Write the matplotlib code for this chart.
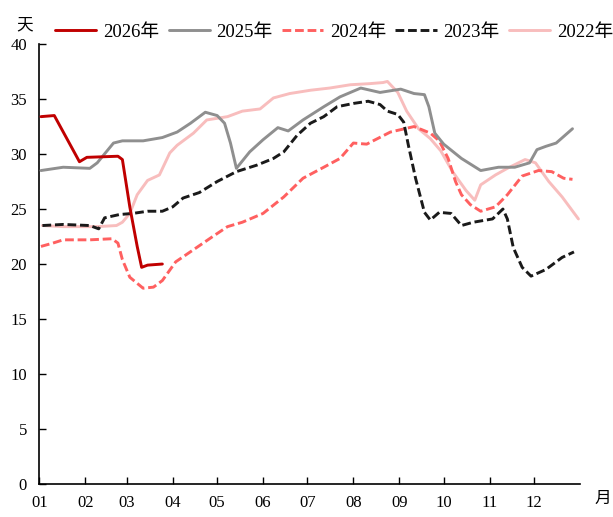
import numpy as np
import matplotlib
matplotlib.use("Agg")
import matplotlib.pyplot as plt

plt.rcParams["font.family"] = ["Liberation Serif", "Noto Sans CJK SC"]

# x = dzień roku (0 = 1 stycznia), y = liczba dni
d2026 = [1, 10, 27, 32, 53, 56, 61, 66, 69, 73, 83]
v2026 = [33.4, 33.5, 29.3, 29.7, 29.8, 29.5, 25.2, 21.6, 19.7, 19.9, 20.0]

d2025 = [1, 16, 34, 39, 50, 56, 70, 83, 93, 102, 112, 120, 125, 129, 133, 142, 151,
         161, 168, 178, 192, 203, 217, 230, 244, 253, 260, 263, 267, 273, 285, 298,
         310, 321, 331, 336, 342, 349, 360]
v2025 = [28.5, 28.8, 28.7, 29.2, 31.0, 31.2, 31.2, 31.5, 32.0, 32.8, 33.8, 33.5, 32.8,
         31.0, 28.7, 30.2, 31.3, 32.4, 32.1, 33.1, 34.3, 35.2, 36.0, 35.6, 35.9, 35.5,
         35.4, 34.3, 31.9, 30.9, 29.6, 28.5, 28.8, 28.8, 29.2, 30.4, 30.7, 31.0, 32.3]

d2024 = [1, 9, 16, 34, 49, 53, 56, 61, 70, 77, 83, 92, 104, 117, 127, 137, 151, 165,
         178, 192, 203, 212, 221, 237, 253, 264, 270, 276, 281, 285, 291, 298, 308,
         316, 326, 337, 346, 354, 360]
v2024 = [21.6, 21.9, 22.2, 22.2, 22.3, 21.9, 20.4, 18.8, 17.8, 17.9, 18.5, 20.2, 21.3,
         22.5, 23.4, 23.8, 24.6, 26.1, 27.8, 28.8, 29.6, 31.0, 30.9, 32.0, 32.5, 31.9,
         31.2, 29.6, 27.5, 26.3, 25.4, 24.8, 25.2, 26.3, 28.0, 28.5, 28.4, 27.8, 27.7]

d2023 = [2, 16, 34, 40, 44, 54, 63, 73, 83, 90, 97, 108, 120, 133, 147, 158, 165, 174,
         183, 192, 201, 212, 222, 230, 235, 242, 246, 249, 254, 260, 264, 270, 278,
         285, 293, 306, 313, 316, 320, 326, 332, 342, 353, 361]
v2023 = [23.5, 23.6, 23.5, 23.2, 24.2, 24.5, 24.6, 24.8, 24.8, 25.2, 26.0, 26.5, 27.5,
         28.4, 29.0, 29.6, 30.2, 31.7, 32.8, 33.4, 34.3, 34.6, 34.8, 34.5, 33.9, 33.6,
         32.9, 30.9, 27.8, 24.7, 24.0, 24.7, 24.6, 23.5, 23.8, 24.1, 25.0, 24.1, 21.5,
         19.7, 18.9, 19.5, 20.6, 21.1]

d2022 = [2, 16, 39, 52, 56, 61, 66, 73, 81, 88, 93, 104, 113, 127, 137, 149, 158, 169,
         183, 196, 210, 223, 232, 235, 242, 248, 256, 264, 271, 279, 288, 294, 298,
         308, 316, 328, 335, 344, 353, 364]
v2022 = [23.5, 23.4, 23.4, 23.5, 23.8, 24.6, 26.3, 27.6, 28.1, 30.1, 30.8, 31.9, 33.1,
         33.4, 33.9, 34.1, 35.1, 35.5, 35.8, 36.0, 36.3, 36.4, 36.5, 36.6, 35.6, 33.9,
         32.3, 31.4, 30.3, 28.4, 26.7, 25.8, 27.2, 28.1, 28.7, 29.5, 29.2, 27.5, 26.1,
         24.1]

miesiace = ["01", "02", "03", "04", "05", "06", "07", "08", "09", "10", "11", "12"]
poczatki = [0, 31, 59, 90, 120, 151, 181, 212, 243, 273, 304, 334]

fig = plt.figure(figsize=(6.13, 5.17), dpi=100)
ax = fig.add_axes([0.0644, 0.0638, 0.8816, 0.851])

styl = dict(lw=2.1, solid_joinstyle="round", dash_joinstyle="round", solid_capstyle="round")
ax.plot(d2026, v2026, color="#C00000", label="2026年", zorder=6, **styl)
ax.plot(d2025, v2025, color="#8F8F8F", label="2025年", zorder=4, **styl)
ax.plot(d2024, v2024, color="#FF6060", dashes=(3, 1.3), label="2024年", zorder=3, **styl)
ax.plot(d2023, v2023, color="#1A1A1A", dashes=(3, 1.3), label="2023年", zorder=5, **styl)
ax.plot(d2022, v2022, color="#F8BDBD", label="2022年", zorder=2, **styl)

ax.set_xlim(0, 365)
ax.set_ylim(0, 40)
ax.set_yticks(np.arange(0, 41, 5))
ax.set_xticks(poczatki)
ax.set_xticklabels(miesiace)
ax.tick_params(direction="in", length=5, width=1, labelsize=12, colors="black")
ax.tick_params(axis="x", pad=8)
ax.tick_params(axis="y", pad=9)
for s in ["top", "right"]:
    ax.spines[s].set_visible(False)
for s in ["left", "bottom"]:
    ax.spines[s].set_linewidth(1.2)

fig.text(25 / 613, 1 - 25 / 517, "天", fontsize=12, ha="center", va="center")
fig.text(603 / 613, 1 - 499 / 517, "月", fontsize=12, ha="center", va="center")

fig.legend(loc="center", bbox_to_anchor=(0.545, 1 - 32 / 517), ncol=5, frameon=False,
           fontsize=13.5, handlelength=2.2, handletextpad=0.35, columnspacing=0.5,
           borderaxespad=0)

fig.savefig("out.png", dpi=100)
